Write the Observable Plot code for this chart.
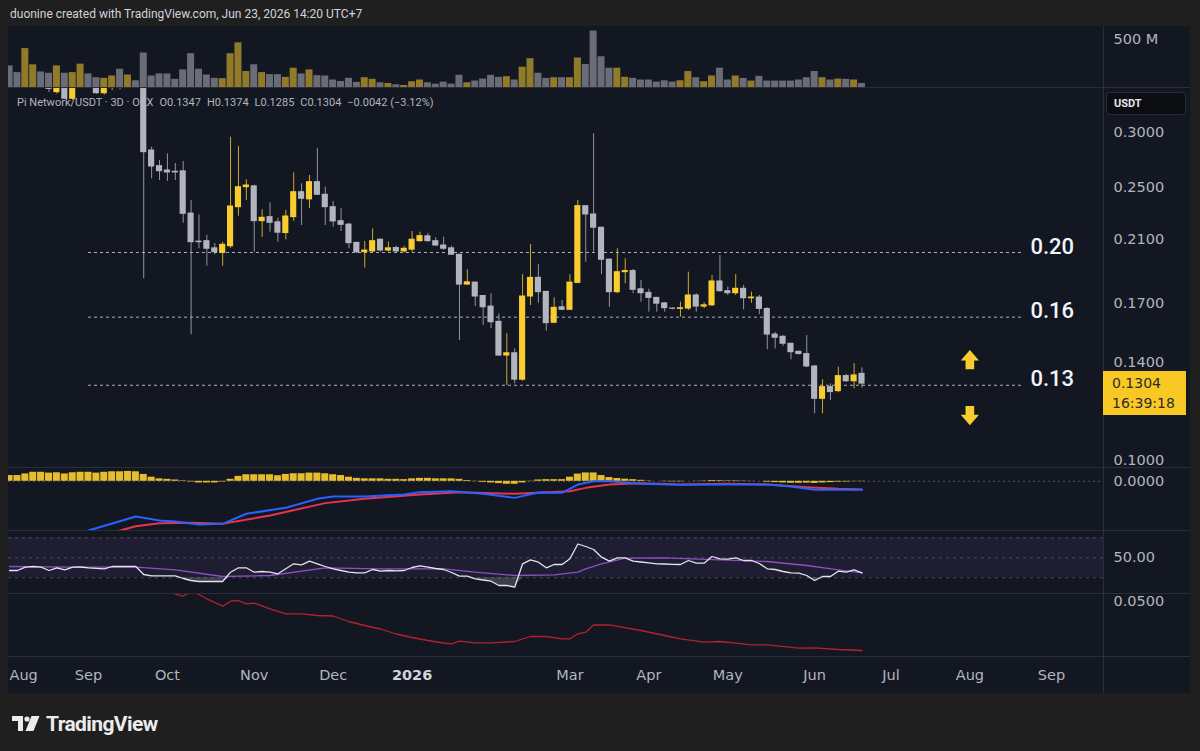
<!DOCTYPE html>
<html>
<head>
<meta charset="utf-8">
<script src="https://cdn.jsdelivr.net/npm/d3@7"></script>
<script src="https://cdn.jsdelivr.net/npm/@observablehq/plot@0.6"></script>
<style>
  html, body { margin: 0; padding: 0; background: #1f1f1f; }
  #root { position: relative; width: 1200px; height: 751px; overflow: hidden; background: #1f1f1f; font-family: Roboto, "Liberation Sans", sans-serif; }
  #panel { position: absolute; left: 8px; top: 26px; width: 1182px; height: 667px; background: #131722; }
  .sep { position: absolute; left: 8px; width: 1182px; height: 1px; background: #2a2e39; }
  .vsep { position: absolute; left: 1103px; top: 26px; width: 1px; height: 667px; background: #2a2e39; }
  #header { position: absolute; left: 10px; top: 7px; font-size: 12px; color: #d1d4dc; white-space: pre; }
  #legend { position: absolute; left: 17px; top: 96px; font-size: 11px; color: #b2b5be; white-space: pre; display: flex; gap: 6px; }
  #usdt { position: absolute; left: 1106px; top: 92px; width: 80px; height: 23px; background: #0c0d10; border: 1px solid #2a2e39; border-radius: 4px; box-sizing: border-box; color: #e6e8ee; font-size: 11px; font-weight: 700; line-height: 21px; padding-left: 7px; }
  #tag { position: absolute; left: 1103px; width: 83px; height: 44px; background: #f8c924; color: #2b2b2b; font-family: "DejaVu Sans", sans-serif; font-size: 14px; line-height: 20px; padding-left: 9px; box-sizing: border-box; padding-top: 2px; }
  #footer { position: absolute; left: 12px; top: 712px; display: flex; align-items: center; gap: 6px; color: #ececec; font-size: 21px; font-weight: 700; letter-spacing: -0.6px; }
</style>
</head>
<body>
<div id="root">
  <div id="panel"></div>
  <div id="header">duonine created with TradingView.com, Jun 23, 2026 14:20 UTC+7</div>
  <div id="legend"><span>Pi Network/USDT · 3D · OKX</span><span>O0.1347</span><span>H0.1374</span><span>L0.1285</span><span>C0.1304</span><span>−0.0042 (−3.12%)</span></div>
  <div id="footer">
    <svg width="28" height="16" viewBox="0 0 28 16"><path d="M0 0H11V15H6V5H0Z" fill="#ececec"/><circle cx="15" cy="3" r="2.6" fill="#ececec"/><path d="M19.5 0H27.5L21.5 15H13.5Z" fill="#ececec"/></svg>
    <span>TradingView</span>
  </div>
</div>
<script>
// ---------------- data (oldest bar first; 3-day candles) ----------------
const opens = [0.400,0.390,0.378,0.410,0.420,0.385,0.3423,0.355,0.3349,0.350,
  0.372,0.360,0.3411,0.355,0.358,0.350,0.356,0.352,0.2822,0.2679,
  0.2641,0.263,0.2634,0.2290,0.2087,0.209,0.2041,0.201,0.2055,0.2339,
  0.2499,0.2506,0.2233,0.2263,0.2225,0.2147,0.2263,0.2458,0.2400,0.2541,
  0.2437,0.2339,0.2233,0.2208,0.2078,0.2015,0.202,0.210,0.2026,0.2043,
  0.202,0.2032,0.209,0.2124,0.209,0.206,0.2041,0.1998,0.181,0.1822,
  0.1743,0.1683,0.160,0.1431,0.1442,0.1321,0.174,0.1851,0.1767,0.1595,
  0.1679,0.1665,0.182,0.2347,0.2283,0.2185,0.1966,0.1765,0.1886,0.1893,
  0.1782,0.1761,0.1732,0.1701,0.1672,0.1670,0.1672,0.1746,0.1683,0.1690,
  0.1829,0.1771,0.1759,0.1785,0.173,0.1734,0.167,0.1534,0.1523,0.1488,
  0.1449,0.1438,0.138,0.124,0.1289,0.1272,0.1337,0.1314,0.1347];
const highs = [0.410,0.395,0.425,0.430,0.425,0.390,0.360,0.358,0.352,0.380,
  0.378,0.362,0.358,0.362,0.360,0.362,0.360,0.356,0.2853,0.273,
  0.2791,0.2703,0.2721,0.2391,0.228,0.213,0.2074,0.2083,0.2949,0.2859,
  0.2561,0.2515,0.2319,0.2373,0.2255,0.2313,0.2621,0.2527,0.2598,0.2843,
  0.2499,0.2383,0.2327,0.2218,0.2083,0.2088,0.2177,0.2105,0.2083,0.2056,
  0.2055,0.2158,0.2153,0.2145,0.2115,0.2117,0.2055,0.200,0.1901,0.1824,
  0.1746,0.1756,0.1643,0.1538,0.1463,0.1871,0.2067,0.1935,0.177,0.1732,
  0.1717,0.1871,0.2391,0.235,0.2982,0.2188,0.197,0.2038,0.1971,0.1903,
  0.1835,0.1782,0.1735,0.1705,0.1677,0.1708,0.1886,0.1756,0.1705,0.1865,
  0.1993,0.1796,0.1871,0.1805,0.1765,0.1746,0.1676,0.1545,0.1528,0.149,
  0.1452,0.1529,0.1385,0.1321,0.1303,0.1377,0.1345,0.1393,0.1374];
const lows = [0.385,0.372,0.370,0.400,0.380,0.342,0.340,0.334,0.333,0.348,
  0.350,0.340,0.339,0.344,0.345,0.348,0.349,0.1845,0.2569,0.2555,
  0.2547,0.2555,0.2218,0.1533,0.2038,0.1924,0.1998,0.1924,0.2041,0.227,
  0.2391,0.2015,0.2117,0.2153,0.2083,0.2099,0.2231,0.2201,0.2327,0.243,
  0.2201,0.2189,0.2158,0.2038,0.2004,0.1911,0.201,0.2015,0.2015,0.201,
  0.201,0.2015,0.2083,0.2083,0.2055,0.2026,0.1995,0.1504,0.1805,0.1683,
  0.1581,0.1564,0.1427,0.1296,0.1303,0.1314,0.1689,0.1702,0.1551,0.159,
  0.1661,0.1661,0.1815,0.1949,0.2015,0.1871,0.1679,0.1756,0.1815,0.1756,
  0.1708,0.1652,0.1652,0.1652,0.1665,0.1625,0.1661,0.1652,0.1672,0.1683,
  0.1765,0.1746,0.1746,0.1665,0.1701,0.1639,0.1459,0.1463,0.1475,0.1411,
  0.1434,0.1375,0.118,0.118,0.1233,0.1265,0.131,0.1282,0.1285];
const closes = [0.390,0.378,0.410,0.420,0.385,0.346,0.355,0.3349,0.350,0.372,
  0.360,0.3411,0.355,0.358,0.350,0.356,0.352,0.2806,0.2676,0.2635,
  0.2624,0.2624,0.2288,0.2083,0.2083,0.2038,0.2015,0.2065,0.2344,0.2499,
  0.2513,0.2233,0.2258,0.2221,0.2149,0.2268,0.2458,0.2405,0.2541,0.2437,
  0.2339,0.2231,0.2206,0.2076,0.2015,0.2026,0.209,0.2026,0.2041,0.202,
  0.2038,0.210,0.2125,0.209,0.206,0.2038,0.1998,0.181,0.1824,0.174,
  0.1679,0.1598,0.1431,0.1442,0.1321,0.174,0.1851,0.1765,0.1593,0.1676,
  0.1665,0.1822,0.2347,0.2283,0.2185,0.1965,0.1765,0.1886,0.1893,0.1779,
  0.1759,0.1732,0.1699,0.1674,0.1671,0.1674,0.1746,0.1683,0.1690,0.1829,
  0.1771,0.1759,0.1785,0.173,0.1734,0.1670,0.1534,0.1518,0.1488,0.1447,
  0.1438,0.138,0.124,0.1289,0.1268,0.1337,0.1314,0.134,0.1304];
// volume, millions
const volumes = [225,155,405,236,162,148,225,148,155,243,
  141,102,95,120,190,130,70,359,120,141,
  141,85,183,352,190,130,95,92,352,465,
  166,236,155,134,134,106,201,141,183,123,
  120,78,63,95,53,102,85,49,42,28,
  21,60,78,49,35,56,35,127,49,67,
  88,127,106,113,78,211,300,148,95,102,
  102,102,307,240,588,320,201,201,106,95,
  78,78,56,70,56,70,166,102,60,120,
  201,78,120,95,67,116,67,67,67,67,
  78,102,166,102,78,88,85,78,42];
// MACD histogram, thousandths
const macdHist = [3.5,3.5,4.5,5.5,5.5,5.0,5.2,4.5,5.2,5.5,
  5.5,5.0,5.5,5.8,5.8,6.0,5.8,4.2,2.5,1.5,
  1.2,0.8,0.3,-0.4,-1.0,-1.0,-1.0,-0.4,1.2,3.0,
  4.0,4.0,4.0,4.0,3.4,4.2,4.6,4.6,5.0,5.0,
  4.6,4.0,3.5,2.5,1.8,1.5,1.5,1.5,1.2,1.2,
  1.0,1.5,1.8,1.8,1.5,1.5,1.5,1.2,0.5,-0.2,
  -0.6,-1.0,-1.4,-1.8,-1.8,-1.0,-0.2,0.8,1.0,1.0,
  1.0,2.5,4.4,5.1,5.1,3.5,2.3,1.7,1.3,1.0,
  0.6,0.2,0.0,-0.2,-0.3,-0.3,0.0,0.1,0.2,0.5,
  0.4,0.3,0.3,0.2,0.1,0.0,-0.5,-0.8,-1.0,-1.2,
  -1.2,-1.1,-1.3,-1.0,-0.8,-0.5,-0.4,-0.2,-0.2];
const rsiValues = [37.3,37.3,40.6,41.3,40.6,37.3,40,38,40.6,40.8,
  40,39.5,39,41.3,41.3,41.3,41.3,33.3,32,32,
  32,32,29.3,27.3,26.3,26.3,26.3,26.3,35.6,40,
  40,35.6,36.3,35.6,34,39,44,43,46.6,44,
  41.3,39,37.3,35.6,35,35,38.3,36.6,37.3,37,
  37.3,40.3,42,40.6,39.3,38.3,35.3,31.6,31.6,29,
  27.8,26.6,22.3,22.3,20.6,44,48,45.6,40,43.3,
  43.3,49,63.8,61.3,58.3,50.6,46.6,50,50,46.6,
  45.8,45,44,43.8,43.5,43.3,47.3,44.6,44.6,51.3,
  49,48.6,50,47.3,47.3,44.3,39,38.3,36.3,35,
  34.6,32.3,27.3,31.3,31.3,36.6,35.6,38,35];
// sparse lines: bars ago -> value
const rsiMaBarsAgo = [108,100,92,87,81,75,68,61,53,49,44,39,36,35,33,30,25,18,12,7,3,0];
const rsiMaValues  = [41.3,40.6,40.6,38,31.3,32.3,40,39,39,35.6,32.3,33,35.6,39,44,49.6,50,48,46.3,42.3,38,35];
const macdBarsAgo = [99,98,92,89,87,84,81,78,73,69,67,63,58,56,52,48,44,41,38,36,34,32,28,23,17,12,9,6,3,0];
const macdValues  = [-32,-30,-21.4,-23.9,-24.5,-26.3,-25.9,-19.8,-16.1,-10.7,-9.3,-9.3,-8,-6.6,-6,-7.6,-10.1,-6.8,-7,-2,0,0,-1.5,-2.1,-2,-2,-3.2,-5.2,-5.2,-5.2];
const signalBarsAgo = [95,94,92,89,85,81,75,68,63,56,51,44,37,35,32,28,23,17,12,7,3,0];
const signalValues  = [-32,-30,-27.4,-25.5,-25.3,-25.9,-20.8,-13.3,-10.7,-8,-6.6,-7.6,-6,-4,-2,-1.2,-2,-1.5,-2,-3.6,-4.6,-5];
const lowerBarsAgo = [87,86,85,84,83,82,81,80,79,78,77,75,73,71,69,67,65,63,61,59,57,55,53,52,51,49,47,44,42,40,38,37,36,35,34,32,28,25,23,20,18,16,14,12,8,6,3,0];
const lowerValues = [0.0522,0.05115,0.0535,0.052,0.04985,0.048,0.04615,0.04865,0.049,0.04735,
  0.04765,0.04485,0.04235,0.04235,0.0415,0.04125,0.0385,0.0365,0.03475,0.03225,
  0.0305,0.029,0.02775,0.02735,0.02865,0.02785,0.02785,0.0285,0.031,0.031,
  0.02985,0.02985,0.03235,0.03315,0.03675,0.03685,0.034,0.0315,0.02985,0.02815,
  0.0285,0.02765,0.02685,0.02685,0.02515,0.02535,0.0245,0.024];
// horizontal levels drawn on chart
const levelValues = [0.2013, 0.1625, 0.1297];
const levelLabels = ["0.20", "0.16", "0.13"];
const levelStart = "2025-08-31", levelEnd = "2026-08-21", levelLabelDate = "2026-08-24";
const arrowDate = "2026-08-01", arrowUpValue = 0.1412, arrowDownValue = 0.1173;
// axes
const priceTicks = [0.10, 0.14, 0.17, 0.21, 0.25, 0.30];
const tickDates = ["2025-07-31","2025-08-31","2025-09-30","2025-11-02","2025-12-02","2026-01-01","2026-03-02","2026-04-01","2026-05-01","2026-06-03","2026-07-02","2026-08-01","2026-09-01"];
const tickLabels = ["Aug","Sep","Oct","Nov","Dec","2026","Mar","Apr","May","Jun","Jul","Aug","Sep"];
const lastClose = 0.1304, countdown = "16:39:18";

// ---------------- build ----------------
const upColor = "#f9cc30", downColor = "#b2b5be";
const N = closes.length;
const lastBar = new Date(Date.UTC(2026, 5, 21));
const dateAgo = k => d3.utcDay.offset(lastBar, -3 * k);
const candles = d3.range(N).map(i => ({
  date: dateAgo(N - 1 - i), open: opens[i], high: highs[i], low: lows[i], close: closes[i],
  volume: volumes[i], hist: macdHist[i] / 1000, rsi: rsiValues[i]
}));
const col = d => d.close >= d.open ? upColor : downColor;
const pairs = (ks, vs, scale = 1) => ks.map((k, i) => ({date: dateAgo(k), value: vs[i] * scale}));
const rsiMa = pairs(rsiMaBarsAgo, rsiMaValues);
const macdLine = pairs(macdBarsAgo, macdValues, 0.001);
const signalLine = pairs(signalBarsAgo, signalValues, 0.001);
const lowerLine = pairs(lowerBarsAgo, lowerValues);
const levels = levelValues.map((v, i) => ({value: v, label: levelLabels[i], start: new Date(levelStart), end: new Date(levelEnd), at: new Date(levelLabelDate)}));
const ticks = tickDates.map((d, i) => ({date: new Date(d), label: tickLabels[i]}));

const xDomain = [new Date("2025-07-31T14:24Z"), new Date("2026-09-20T19:00Z")];
const axisFont = "'DejaVu Sans', sans-serif";
const common = {
  width: 1182, marginLeft: 0, marginRight: 87, marginTop: 0, marginBottom: 0,
  x: {type: "utc", domain: xDomain, axis: null},
  style: {background: "transparent", color: "#b2b5be", fontFamily: axisFont, fontSize: "14.5px", overflow: "hidden"}
};
const axisOpts = {anchor: "right", tickSize: 0, tickPadding: 10, label: null};
const hw = (d, h) => d3.utcHour.offset(d.date, h);

const upArrow = {draw(ctx, size) { const r = Math.sqrt(size / Math.PI);
  ctx.moveTo(0, -r); ctx.lineTo(0.95 * r, 0.1 * r); ctx.lineTo(0.45 * r, 0.1 * r); ctx.lineTo(0.45 * r, r);
  ctx.lineTo(-0.45 * r, r); ctx.lineTo(-0.45 * r, 0.1 * r); ctx.lineTo(-0.95 * r, 0.1 * r); ctx.closePath(); }};
const downArrow = {draw(ctx, size) { const r = Math.sqrt(size / Math.PI);
  ctx.moveTo(0, r); ctx.lineTo(0.95 * r, -0.1 * r); ctx.lineTo(0.45 * r, -0.1 * r); ctx.lineTo(0.45 * r, -r);
  ctx.lineTo(-0.45 * r, -r); ctx.lineTo(-0.45 * r, -0.1 * r); ctx.lineTo(-0.95 * r, -0.1 * r); ctx.closePath(); }};

const volumePlot = Plot.plot({...common, height: 62, marginBottom: 1,
  y: {domain: [0, 635], axis: null},
  marks: [
    Plot.rect(candles, {x1: d => hw(d, -32), x2: d => hw(d, 32), y1: 0, y2: "volume", fill: col, fillOpacity: 0.55, clip: true}),
    Plot.axisY([500], {...axisOpts, tickFormat: d => `${d} M`})
  ]});

const pricePlot = Plot.plot({...common, height: 379,
  y: {type: "log", domain: [0.098777, 0.34648], axis: null},
  marks: [
    Plot.ruleY(levels, {y: "value", x1: "start", x2: "end", stroke: "#c9ccd4", strokeOpacity: 0.85, strokeDasharray: "3,3"}),
    Plot.text(levels, {x: "at", y: "value", text: "label", textAnchor: "start", dy: -6, fill: "#f3f4f7", fontSize: 22, fontWeight: 500, fontFamily: "Roboto, sans-serif"}),
    Plot.ruleX(candles, {x: "date", y1: "low", y2: "high", stroke: col, strokeOpacity: 0.8, clip: true}),
    Plot.rect(candles, {x1: d => hw(d, -28), x2: d => hw(d, 28), y1: "open", y2: "close", fill: col, insetTop: -0.5, insetBottom: -0.5, clip: true}),
    Plot.dot([{date: new Date(arrowDate), value: arrowUpValue}], {x: "date", y: "value", symbol: upArrow, r: 9.6, fill: upColor, stroke: "none"}),
    Plot.dot([{date: new Date(arrowDate), value: arrowDownValue}], {x: "date", y: "value", symbol: downArrow, r: 9.6, fill: upColor, stroke: "none"}),
    Plot.axisY(priceTicks.slice(1), {...axisOpts, tickFormat: ".4f"}),
    Plot.axisY(priceTicks.slice(0, 1), {...axisOpts, tickFormat: ".4f", dy: -3})
  ]});

const macdPlot = Plot.plot({...common, height: 63,
  y: {domain: [-0.02998, 0.00841], axis: null},
  marks: [
    Plot.ruleY([0], {stroke: "#787b86", strokeOpacity: 0.6, strokeDasharray: "2,3"}),
    Plot.rect(candles, {x1: d => hw(d, -32), x2: d => hw(d, 32), y1: 0, y2: "hist", fill: upColor, fillOpacity: 0.92, clip: true}),
    Plot.line(signalLine, {x: "date", y: "value", stroke: "#e8344f", strokeWidth: 2, clip: true}),
    Plot.line(macdLine, {x: "date", y: "value", stroke: "#2962ff", strokeWidth: 2, clip: true}),
    Plot.axisY([0], {...axisOpts, tickFormat: ".4f"})
  ]});

const rsiPlot = Plot.plot({...common, height: 63,
  y: {domain: [14.3, 77.3], axis: null},
  marks: [
    Plot.rect([{a: xDomain[0], b: xDomain[1]}], {x1: "a", x2: "b", y1: 30, y2: 70, fill: "#7e57c2", fillOpacity: 0.1}),
    Plot.ruleY([70, 50, 30], {stroke: "#787b86", strokeOpacity: 0.5, strokeDasharray: "3,4"}),
    Plot.areaY(candles, {x: "date", y1: 30, y2: d => Math.min(d.rsi, 30), fill: "#d1d4dc", fillOpacity: 0.22, clip: true}),
    Plot.line(rsiMa, {x: "date", y: "value", stroke: "#8e4fc0", strokeWidth: 1.3, clip: true}),
    Plot.line(candles, {x: "date", y: "rsi", stroke: "#e3e5ea", strokeWidth: 1.3, clip: true}),
    Plot.axisY([50], {...axisOpts, tickFormat: ".2f"})
  ]});

const lowerPlot = Plot.plot({...common, height: 63,
  y: {domain: [0.021, 0.0525], axis: null},
  marks: [
    Plot.line(lowerLine, {x: "date", y: "value", stroke: "#b2232f", strokeWidth: 1.3, clip: true}),
    Plot.axisY([0.05], {...axisOpts, tickFormat: ".4f", dy: 2.5})
  ]});

const isYear = d => /^\d+$/.test(d.label);
const timePlot = Plot.plot({...common, height: 37,
  marks: [
    Plot.text(ticks.slice(0, 1), {text: "label", frameAnchor: "left", textAnchor: "start", dx: 1, fill: "#b2b5be", fontSize: 14.5}),
    Plot.text(ticks.slice(1), {filter: d => !isYear(d), x: "date", text: "label", frameAnchor: "middle", fill: "#b2b5be", fontSize: 14.5}),
    Plot.text(ticks.slice(1), {filter: isYear, x: "date", text: "label", frameAnchor: "middle", fill: "#d1d4dc", fontSize: 14.5, fontWeight: "bold"})
  ]});

const root = document.getElementById("root");
function mount(el, top) { el.style.position = "absolute"; el.style.left = "8px"; el.style.top = top + "px"; root.appendChild(el); }
mount(volumePlot, 26);
mount(pricePlot, 88);
mount(macdPlot, 467);
mount(rsiPlot, 530);
mount(lowerPlot, 593);
mount(timePlot, 656);
for (const y of [87, 467, 530, 593, 656]) { const s = document.createElement("div"); s.className = "sep"; s.style.top = y + "px"; root.appendChild(s); }
const v = document.createElement("div"); v.className = "vsep"; root.appendChild(v);
const usdt = document.createElement("div"); usdt.id = "usdt"; usdt.textContent = "USDT"; root.appendChild(usdt);
const tagY = 88 + pricePlot.scale("y").apply(lastClose);
const tag = document.createElement("div"); tag.id = "tag"; tag.style.top = (tagY - 12) + "px";
tag.innerHTML = `${d3.format(".4f")(lastClose)}<br>${countdown}`; root.appendChild(tag);
</script>
</body>
</html>
